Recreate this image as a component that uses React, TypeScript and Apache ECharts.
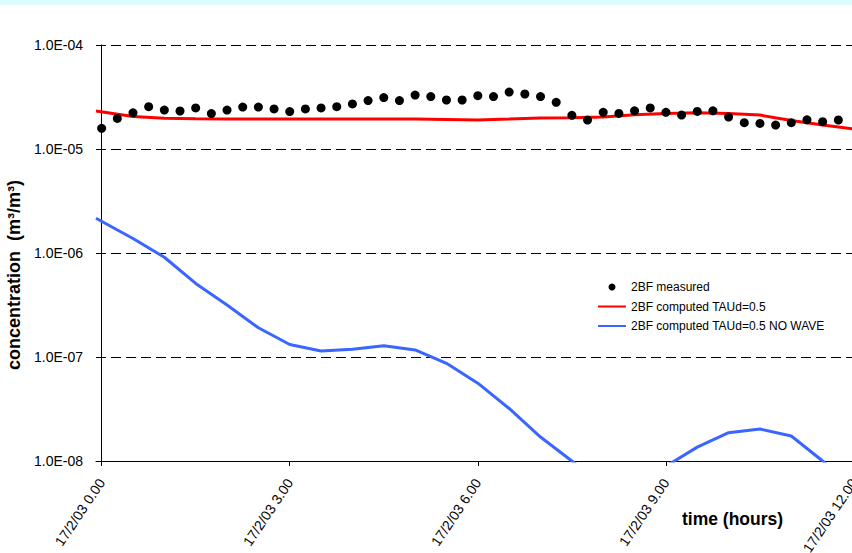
import React, { useEffect, useRef } from "react";
import * as echarts from "echarts";

const FONT = '"Liberation Sans", Arial, sans-serif';

// Measured (every 15 min, hours since 17/2/03 0.00)
const measuredTimes = [
  0, 0.25, 0.5, 0.75, 1, 1.25, 1.5, 1.75, 2, 2.25, 2.5, 2.75,
  3, 3.25, 3.5, 3.75, 4, 4.25, 4.5, 4.75, 5, 5.25, 5.5, 5.75,
  6, 6.25, 6.5, 6.75, 7, 7.25, 7.5, 7.75, 8, 8.25, 8.5, 8.75,
  9, 9.25, 9.5, 9.75, 10, 10.25, 10.5, 10.75, 11, 11.25, 11.5, 11.75,
];
const measured = [
  1.58e-5, 1.97e-5, 2.23e-5, 2.55e-5, 2.37e-5, 2.32e-5, 2.48e-5, 2.19e-5, 2.37e-5, 2.53e-5,
  2.53e-5, 2.43e-5, 2.29e-5, 2.43e-5, 2.48e-5, 2.55e-5, 2.71e-5, 2.92e-5, 3.12e-5, 2.92e-5,
  3.3e-5, 3.19e-5, 2.96e-5, 2.96e-5, 3.26e-5, 3.19e-5, 3.53e-5, 3.38e-5, 3.19e-5, 2.81e-5,
  2.11e-5, 1.9e-5, 2.25e-5, 2.2e-5, 2.33e-5, 2.48e-5, 2.25e-5, 2.12e-5, 2.3e-5, 2.33e-5,
  2.03e-5, 1.79e-5, 1.76e-5, 1.7e-5, 1.79e-5, 1.91e-5, 1.83e-5, 1.9e-5,
];

// Computed series (every 30 min)
const computedTimes = [
  -0.09, 0.5, 1, 1.5, 2, 2.5, 3, 3.5, 4, 4.5, 5, 5.5, 6,
  6.5, 7, 7.5, 8, 8.5, 9, 9.5, 10, 10.5, 11, 11.5, 12,
];
const computedTau = [
  2.32e-5, 2.05e-5, 1.98e-5, 1.95e-5, 1.94e-5, 1.94e-5, 1.94e-5, 1.94e-5, 1.94e-5, 1.94e-5,
  1.94e-5, 1.92e-5, 1.9e-5, 1.94e-5, 1.99e-5, 2.0e-5, 2.03e-5, 2.13e-5, 2.2e-5, 2.23e-5,
  2.2e-5, 2.12e-5, 1.88e-5, 1.7e-5, 1.56e-5,
];
const computedNoWave = [
  2.16e-6, 1.38e-6, 9.1e-7, 5.1e-7, 3.16e-7, 1.91e-7, 1.32e-7, 1.14e-7, 1.19e-7, 1.28e-7,
  1.17e-7, 8.7e-8, 5.6e-8, 3.2e-8, 1.7e-8, 1.0e-8, 6.0e-9, 5.5e-9, 8.9e-9, 1.36e-8,
  1.87e-8, 2.03e-8, 1.74e-8, 1.0e-8, 5.5e-9,
];

const xTickValues = [0, 3, 6, 9, 12];
const xTickLabels = ["17/2/03 0.00", "17/2/03 3.00", "17/2/03 6.00", "17/2/03 9.00", "17/2/03 12.00"];

const seriesNames = ["2BF measured", "2BF computed TAUd=0.5", "2BF computed TAUd=0.5 NO WAVE"];

const zip = (xs: number[], ys: number[]) => xs.map((x, i) => [x, ys[i]]);

export default function App() {
  const ref = useRef<HTMLDivElement>(null);
  useEffect(() => {
    const chart = echarts.init(ref.current!, null, { renderer: "svg" });
    chart.setOption({
      animation: false,
      backgroundColor: "#ffffff",
      textStyle: { fontFamily: FONT },
      graphic: [
        { type: "rect", left: 0, top: 0, shape: { width: 852, height: 5 }, style: { fill: "#ddfbfc" } },
        {
          type: "text",
          x: 682,
          y: 519,
          style: {
            text: "time (hours)",
            fill: "#000",
            fontFamily: FONT,
            fontSize: 17.5,
            fontWeight: "bold",
            verticalAlign: "middle",
          },
        },
      ],
      grid: {
        left: 96,
        top: 45,
        width: 758,
        height: 416,
        containLabel: false,
        outerBoundsMode: "none",
      },
      legend: {
        orient: "vertical",
        left: 592,
        top: 276,
        itemWidth: 28,
        itemHeight: 7,
        itemGap: 7.5,
        textStyle: { fontFamily: FONT, fontSize: 12, color: "#000" },
        data: [
          { name: seriesNames[0] },
          { name: seriesNames[1], itemStyle: { opacity: 0 } },
          { name: seriesNames[2], itemStyle: { opacity: 0 } },
        ],
      },
      xAxis: {
        type: "value",
        min: -0.09,
        max: 12,
        axisLine: { onZero: false, lineStyle: { color: "#000", width: 1 } },
        axisTick: { show: true, length: 5, customValues: xTickValues, lineStyle: { color: "#000" } },
        axisLabel: {
          customValues: xTickValues,
          rotate: 56,
          margin: 19,
          fontFamily: FONT,
          fontSize: 14,
          color: "#000",
          formatter: (v: number) => {
            const i = xTickValues.indexOf(Math.round(v));
            return i >= 0 ? xTickLabels[i] : "";
          },
        },
        splitLine: { show: false },
      },
      yAxis: {
        type: "log",
        logBase: 10,
        min: 1e-8,
        max: 1e-4,
        name: "concentration  (m³/m³)",
        nameLocation: "middle",
        nameRotate: 90,
        nameGap: 72,
        nameTextStyle: {
          fontFamily: FONT,
          fontSize: 18,
          fontWeight: "bold",
          color: "#000",
          padding: [0, 44, 0, 0],
        },
        axisLine: { show: true, onZero: true, lineStyle: { color: "#000", width: 1 } },
        axisTick: { show: true, length: 5, lineStyle: { color: "#000" } },
        axisLabel: {
          margin: 13,
          fontFamily: FONT,
          fontSize: 14,
          color: "#000",
          formatter: (v: number) => {
            const e = Math.round(Math.log10(v));
            return "1.0E" + (e < 0 ? "-" : "+") + String(Math.abs(e)).padStart(2, "0");
          },
        },
        splitLine: { show: true, lineStyle: { color: "#000", type: [10, 5], width: 1 } },
      },
      series: [
        {
          name: seriesNames[0],
          type: "scatter",
          z: 4,
          symbol: "circle",
          symbolSize: 9,
          itemStyle: { color: "#000", opacity: 1 },
          data: zip(measuredTimes, measured),
        },
        {
          name: seriesNames[1],
          type: "line",
          showSymbol: false,
          symbol: "none",
          clip: true,
          lineStyle: { color: "#ff0000", width: 3 },
          itemStyle: { color: "#ff0000" },
          data: zip(computedTimes, computedTau),
          markLine: {
            silent: true,
            symbol: ["none", "none"],
            label: { show: false },
            lineStyle: { color: "#8c8c8c", type: "solid", width: 1 },
            data: [{ yAxis: 1e-4 }],
          },
        },
        {
          name: seriesNames[2],
          type: "line",
          showSymbol: false,
          symbol: "none",
          clip: true,
          lineStyle: { color: "#3a66ff", width: 3 },
          itemStyle: { color: "#3a66ff" },
          data: zip(computedTimes, computedNoWave),
        },
      ],
    });
    return () => chart.dispose();
  }, []);
  return (
    <div
      ref={ref}
      style={{ position: "fixed", left: 0, top: 0, width: 852, height: 553, background: "#fff" }}
    />
  );
}
